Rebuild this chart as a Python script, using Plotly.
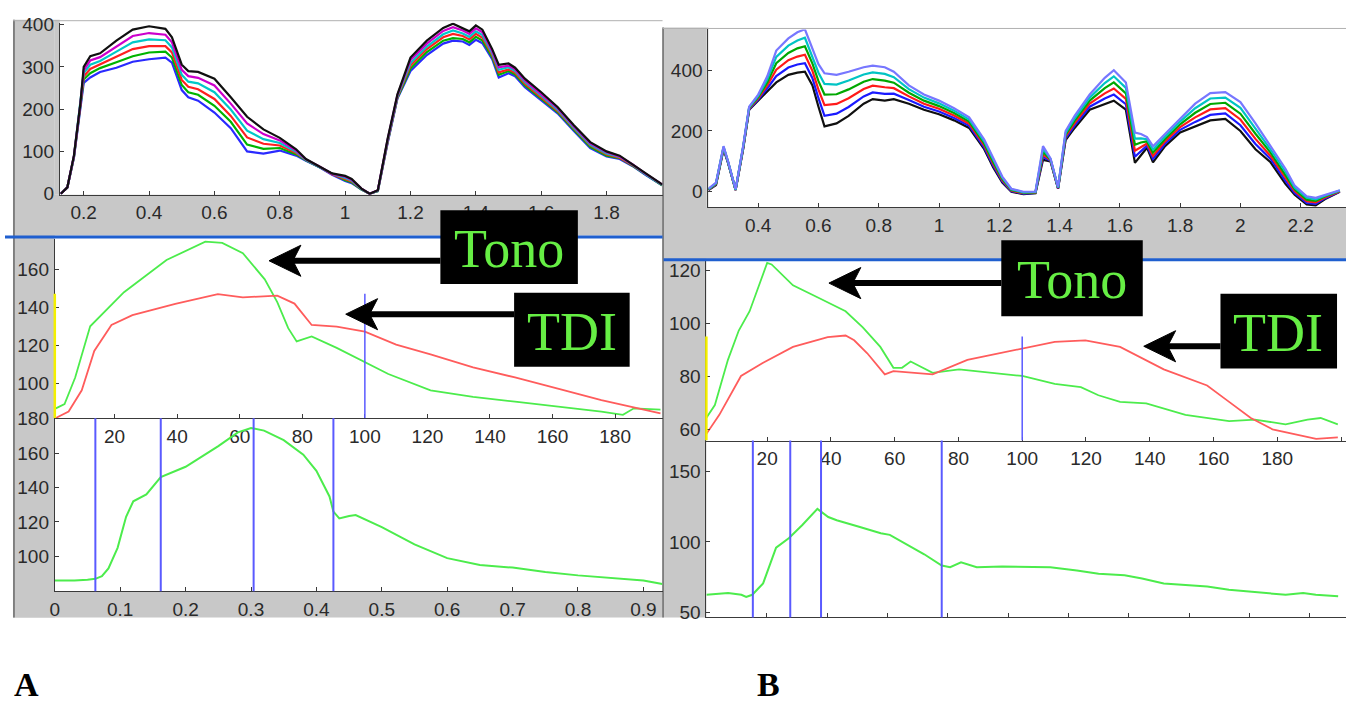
import plotly.graph_objects as go

W, H = 1346, 711

# ---------------- DATA ----------------
# Panel A, top: family of velocity curves (time s, value)
a_top_x = [0.13,0.15,0.17,0.19,0.20,0.22,0.25,0.30,0.35,0.40,0.45,0.47,0.50,0.52,0.55,0.60,0.65,0.70,0.75,0.80,
           0.85,0.88,0.92,0.96,1.00,1.02,1.05,1.075,1.10,1.13,1.16,1.20,1.25,1.30,1.33,1.36,1.38,1.40,1.42,1.45,
           1.47,1.50,1.52,1.55,1.60,1.65,1.70,1.75,1.80,1.84,1.88,1.92,1.97]
a_top_1 = [0,15,85,205,262,275,288,298,312,318,322,310,245,228,220,192,155,100,95,102,90,78,63,45,30,25,10,0,6,120,
           225,290,328,355,362,360,352,364,356,318,275,285,278,252,220,190,148,108,88,82,65,44,20]
a_top_2 = [0,15,86,207,270,285,297,311,325,334,336,322,257,240,234,208,170,116,106,108,93,79,63,46,32,27,10,0,6,122,
           227,296,335,362,368,366,358,371,362,323,281,290,282,256,224,193,151,111,90,84,66,45,20]
a_top_3 = [0,15,87,209,277,295,306,324,342,349,349,334,269,253,247,224,184,133,118,114,96,80,64,46,35,29,11,0,7,124,
           229,303,342,370,378,373,365,378,369,328,287,294,286,260,228,196,154,114,93,85,67,46,21]
a_top_4 = [0,15,88,211,285,305,314,336,358,365,363,346,281,265,261,240,199,149,129,120,99,80,64,47,37,31,11,0,7,126,
           231,309,348,377,386,379,371,384,375,332,293,299,290,264,232,199,156,116,95,87,68,46,21]
a_top_5 = [0,15,89,213,292,315,323,349,373,380,376,358,293,278,274,256,213,166,141,126,102,81,65,47,40,33,12,0,8,128,
           233,316,355,385,394,386,378,391,382,337,299,303,294,268,236,202,159,119,98,88,69,47,22]
a_top_6 = [0,15,90,215,300,325,332,362,388,396,390,370,305,290,288,272,228,182,152,132,105,82,65,48,42,35,12,0,8,130,
           235,322,362,392,402,392,384,398,388,342,305,308,298,272,240,205,162,122,100,90,70,48,22]
a_top_xticks = [0.2,0.4,0.6,0.8,1.0,1.2,1.4,1.6,1.8]
a_top_xtext = ["0.2","0.4","0.6","0.8","1","1.2","1.4","1.6","1.8"]
a_top_yticks = [0,100,200,300,400]

# Panel A, middle: Tono vs TDI (sample index)
a_tono_x = [1.2,4,7.4,12.2,23,36.6,49,54.4,61,68,72,75.5,78.2,83,91,100,107.5,121,134.6,148,162,175.6,182.5,186,194.5]
a_tono_y = [86.7,89,103,130,148,165,174.7,174,168.6,154.8,142.8,129,122,124.7,118.6,111,104.8,96.2,92.8,90.2,87.6,85,83.3,86.7,86]
a_tdi_x = [1.2,5.3,9.5,13.5,19,25.7,39.4,53,61,72,77.5,83,91,100,110,121,134.6,148,162,175.6,194.5]
a_tdi_y = [81.6,85,96.2,117,130.7,135.9,141.9,147,145.3,146.2,142,130.7,129.8,127.2,120.3,115.2,108.3,103,97,91,84]
a_mid_xticks = [20,40,60,80,100,120,140,160,180]
a_mid_yticks = [100,120,140,160]
a_cursor = 100

# Panel A, bottom: Tono curve (time s)
a_low_t = [0,0.03,0.05,0.062,0.072,0.082,0.096,0.109,0.12,0.14,0.162,0.2,0.25,0.28,0.3,0.32,0.35,0.38,0.4,0.42,
           0.426,0.435,0.45,0.46,0.5,0.55,0.6,0.65,0.7,0.75,0.8,0.85,0.9,0.929]
a_low_v = [86,86,86.5,87,88.5,93,105,123,132,136,146,152,164,172,174.5,173,167.5,159,149.7,134.8,
           126,122,123.5,124,117,107,99,95,93.5,91,89,87.5,86,84]
a_markers = [0.062,0.162,0.304,0.426]
a_low_xticks = [0,0.1,0.2,0.3,0.4,0.5,0.6,0.7,0.8,0.9]
a_low_xtext = ["0","0.1","0.2","0.3","0.4","0.5","0.6","0.7","0.8","0.9"]
a_low_yticks = [100,120,140,160,180]

# Panel B, top
b_top_x = [0.235,0.26,0.285,0.30,0.325,0.35,0.37,0.40,0.43,0.46,0.50,0.53,0.555,0.58,0.60,0.62,0.66,0.70,0.75,0.78,
           0.82,0.85,0.90,0.95,1.00,1.05,1.10,1.15,1.18,1.21,1.24,1.28,1.32,1.345,1.37,1.395,1.42,1.45,1.50,1.55,
           1.58,1.62,1.65,1.67,1.69,1.71,1.75,1.80,1.85,1.90,1.95,2.00,2.05,2.10,2.15,2.18,2.22,2.25,2.28,2.33]
b_top_1 = [5,22,140,95,5,140,270,300,330,360,385,392,395,350,280,215,225,250,290,305,300,305,290,270,255,235,210,140,80,30,
           0,-8,-5,105,100,10,170,210,270,290,300,270,95,120,145,97,150,195,215,235,240,200,140,97,25,-10,-42,-45,-25,0]
b_top_2 = [6,24,142,96,6,142,272,304,340,381,409,419,423,374,308,250,257,279,314,327,322,323,302,280,264,243,217,146,86,34,
           2,-6,-4,114,102,11,176,218,280,307,320,288,115,134,152,108,158,204,230,253,258,219,157,108,35,-4,-37,-40,-22,1]
b_top_3 = [7,25,144,97,6,144,274,308,350,402,433,445,451,398,336,285,289,308,338,349,344,341,314,290,273,251,224,153,92,38,
           4,-5,-3,123,104,12,182,226,290,324,340,306,135,148,159,118,166,213,245,271,275,238,174,118,45,2,-31,-35,-19,2]
b_top_4 = [8,27,146,98,7,146,276,312,360,423,457,472,479,422,364,320,321,337,362,371,366,359,326,300,282,259,231,159,98,42,
           6,-3,-2,132,106,13,188,234,300,341,360,324,155,162,166,129,174,222,260,289,293,257,191,129,55,8,-26,-30,-16,3]
b_top_5 = [9,28,148,99,7,148,278,316,370,444,481,498,507,446,392,355,353,366,386,393,388,377,338,310,291,267,238,166,104,46,
           8,-2,-1,141,108,14,194,242,310,358,380,342,175,176,173,139,182,231,275,307,310,276,208,139,65,14,-20,-25,-13,4]
b_top_6 = [10,30,150,100,8,150,280,320,380,465,505,525,535,470,420,390,385,395,410,415,410,395,350,320,300,275,245,172,110,50,
           10,0,0,150,110,15,200,250,320,375,400,360,195,190,180,150,190,240,290,325,328,295,225,150,75,20,-15,-20,-10,5]
b_top_xticks = [0.4,0.6,0.8,1.0,1.2,1.4,1.6,1.8,2.0,2.2]
b_top_xtext = ["0.4","0.6","0.8","1","1.2","1.4","1.6","1.8","2","2.2"]
b_top_yticks = [0,200,400]

# Panel B, middle
b_tono_x = [0.9,3.6,7.7,11.1,14.5,20,21.4,28.1,36.4,44.6,50,55.5,59.6,62.3,65,67.7,71.9,80.2,91.1,100,110.2,118.4,
            123.9,130.7,138.9,151.2,164.9,173,182.6,189.5,193.6,199]
b_tono_y = [64.3,69.2,86.3,97.4,104.7,123,122.4,114.5,109.6,104.7,98.6,91.2,83.3,83.3,85.7,83.9,81.4,82.7,81.4,80.2,77.2,76,
            72.9,70.4,69.8,65.5,63.1,63.7,61.9,63.7,64.3,61.9]
b_tdi_x = [0.9,5,11.8,18.6,28.1,39,44.6,47.3,51.4,56.9,59.6,66.5,71.9,82.8,100,110.2,119.8,130.7,144.4,158,164.9,171.7,
           178.5,185.4,192.2,199]
b_tdi_y = [58.2,65.5,80.2,85.1,91.2,94.9,95.5,93.7,88.8,80.8,82,81.4,80.8,86.3,90.6,93.1,93.7,91.2,82.7,76.6,70.4,64.3,
           60,58.2,56.4,57]
b_mid_xticks = [20,40,60,80,100,120,140,160,180,200]
b_mid_yticks = [60,80,100,120]
b_cursor = 100

# Panel B, bottom
b_low_t = [0,0.036,0.058,0.066,0.076,0.094,0.1155,0.137,0.159,0.184,0.202,0.216,0.253,0.289,0.304,0.332,0.361,0.39,0.404,
           0.422,0.448,0.49,0.541,0.57,0.614,0.65,0.693,0.722,0.758,0.794,0.83,0.866,0.902,0.938,0.96,0.989,1.01,1.047]
b_low_v = [62.4,63.6,62.4,60.8,62.4,70.5,95.9,102.8,112,123.5,117.7,115.4,110.8,106.2,105,98.2,91.2,83.2,82,
           85.5,82,82.5,82,82,79.7,77.4,76.3,74,70.5,69.4,68.2,65.9,64.7,63.6,62.4,63.6,62.4,61.3]
b_markers = [0.077,0.139,0.19,0.39]
b_low_xticks = [0.1,0.2,0.3,0.4,0.5,0.6,0.7,0.8,0.9,1.0]
b_low_yticks = [50,100,150]

# ---------------- STYLE ----------------
GRAY = "#c8c8c8"
AXC = "#3a3a3a"
TICKFONT = dict(family="Liberation Sans Narrow, Arial Narrow, Liberation Sans, Arial, sans-serif", size=19, color="#2a2a2a")
GREEN = "#4cec4c"
RED = "#ff5c5c"
CURSOR = "#5a5aff"
LABEL_GREEN = "#66ee44"
a_colors = ["#2a2aff", "#00b400", "#ff2020", "#00c8c8", "#cc00cc", "#101010"]
b_colors = ["#101010", "#1a1aff", "#ff1a1a", "#00a800", "#00c4c4", "#7777ff"]

fig = go.Figure()

def line_trace(x, y, xa, ya, color, width):
    return go.Scatter(x=x, y=y, xaxis=xa, yaxis=ya, mode="lines",
                      line=dict(color=color, width=width), showlegend=False, hoverinfo="skip")

for ys, c in zip([a_top_1, a_top_2, a_top_3, a_top_4, a_top_5, a_top_6], a_colors):
    fig.add_trace(line_trace(a_top_x, ys, "x", "y", c, 2.2))
fig.add_trace(line_trace(a_tono_x, a_tono_y, "x2", "y2", GREEN, 1.8))
fig.add_trace(line_trace(a_tdi_x, a_tdi_y, "x2", "y2", RED, 1.8))
fig.add_trace(line_trace(a_low_t, a_low_v, "x3", "y3", GREEN, 2))
for ys, c in zip([b_top_1, b_top_2, b_top_3, b_top_4, b_top_5, b_top_6], b_colors):
    fig.add_trace(line_trace(b_top_x, ys, "x4", "y4", c, 2.2))
fig.add_trace(line_trace(b_tono_x, b_tono_y, "x5", "y5", GREEN, 1.8))
fig.add_trace(line_trace(b_tdi_x, b_tdi_y, "x5", "y5", RED, 1.8))
fig.add_trace(line_trace(b_low_t, b_low_v, "x6", "y6", GREEN, 2))


def axis(domain, rng, anchor, **kw):
    d = dict(domain=domain, range=rng, anchor=anchor, showline=True, linecolor=AXC, linewidth=1,
             ticks="inside", ticklen=4, tickcolor=AXC, showgrid=False, zeroline=False,
             tickfont=TICKFONT, fixedrange=True, ticklabelstandoff=1)
    d.update(kw)
    return d

def xd(x0, x1):
    return [x0 / W, x1 / W]

def yd(top, bottom):
    return [1 - bottom / H, 1 - top / H]

layout = dict(
    width=W, height=H, margin=dict(l=0, r=0, t=0, b=0), autosize=False,
    paper_bgcolor="white", plot_bgcolor="rgba(0,0,0,0)", showlegend=False,
    xaxis=axis(xd(55, 660), [0.1268, 1.9713], "y", tickvals=a_top_xticks, ticktext=a_top_xtext),
    yaxis=axis(yd(13, 190), [-2.3, 404.6], "x", tickvals=a_top_yticks),
    xaxis2=axis(xd(50, 660), [0.89, 195.16], "y2", tickvals=a_mid_xticks),
    yaxis2=axis(yd(236, 420), [81.5, 175.9], "x2", tickvals=a_mid_yticks),
    xaxis3=axis(xd(50, 660), [0, 0.9293], "y3", tickvals=a_low_xticks, ticktext=a_low_xtext),
    yaxis3=axis(yd(420, 598), [79.83, 180.2], "x3", tickvals=a_low_yticks),
    xaxis4=axis(xd(706, 1346), [0.2347, 2.3504], "y4", tickvals=b_top_xticks, ticktext=b_top_xtext),
    yaxis4=axis(yd(20, 203), [-51.2, 534.4], "x4", tickvals=b_top_yticks),
    xaxis5=axis(xd(704, 1346), [0.94, 201.56], "y5", tickvals=b_mid_xticks),
    yaxis5=axis(yd(258, 443), [55.77, 123.8], "x5", tickvals=b_mid_yticks),
    xaxis6=axis(xd(704, 1346), [0, 1.06], "y6", tickvals=b_low_xticks, showticklabels=False),
    yaxis6=axis(yd(443, 625), [46.3, 172.08], "x6", tickvals=b_low_yticks),
)
fig.update_layout(**layout)

shapes = []

def rect(x0, y0, x1, y1, color, layer="below"):
    return dict(type="rect", xref="paper", yref="paper", x0=x0 / W, x1=x1 / W, y0=1 - y1 / H, y1=1 - y0 / H,
                fillcolor=color, line=dict(width=0), layer=layer)

def pline(x0, y0, x1, y1, color, width, layer="above"):
    return dict(type="line", xref="paper", yref="paper", x0=x0 / W, x1=x1 / W, y0=1 - y0 / H, y1=1 - y1 / H,
                line=dict(color=color, width=width), layer=layer)

# grey window frames
shapes += [rect(8, 10, 50, 625, GRAY), rect(50, 10, 55, 190, GRAY), rect(8, 190, 660, 232, GRAY),
           rect(8, 598, 660, 625, GRAY), rect(660, 18, 704, 625, GRAY), rect(704, 18, 706, 203, GRAY),
           rect(660, 203, 1346, 256, GRAY)]
shapes += [pline(9, 10, 9, 625, "#6a6a6a", 1.5, "below"), pline(660.5, 18, 660.5, 625, "#6a6a6a", 1.5, "below"),
           pline(8, 11, 660, 11, "#b0b0b0", 1, "below"), pline(660, 19, 1346, 19, "#b0b0b0", 1, "below")]
# blue separators
shapes += [pline(0, 233.5, 660, 233.5, "#1f5fcf", 3), pline(661, 257, 1346, 257, "#1f5fcf", 3)]

# cursor lines and markers
for t in a_markers:
    shapes.append(dict(type="line", xref="x3", yref="y3 domain", x0=t, x1=t, y0=0, y1=1,
                       line=dict(color=CURSOR, width=2)))
for t in b_markers:
    shapes.append(dict(type="line", xref="x6", yref="y6 domain", x0=t, x1=t, y0=0, y1=1,
                       line=dict(color=CURSOR, width=2)))
shapes.append(dict(type="line", xref="x2", yref="y2", x0=a_cursor, x1=a_cursor, y0=81.5, y1=147.2,
                   line=dict(color=CURSOR, width=1.5)))
shapes.append(dict(type="line", xref="x5", yref="y5", x0=b_cursor, x1=b_cursor, y0=55.77, y1=95.1,
                   line=dict(color=CURSOR, width=1.5)))
shapes.append(dict(type="line", xref="x2 domain", yref="y2", x0=0, x1=0, y0=81.5, y1=147.2,
                   line=dict(color="#f4f000", width=2.5)))
shapes.append(dict(type="line", xref="x5 domain", yref="y5", x0=0, x1=0, y0=55.77, y1=95.1,
                   line=dict(color="#f4f000", width=2.5)))

# label boxes with arrows
def arrow(tail, tip, y):
    s = [pline(tail, y, tip + 22, y, "black", 6)]
    path = (f"M {tip / W},{1 - y / H} L {(tip + 32) / W},{1 - (y - 16) / H} "
            f"L {(tip + 24) / W},{1 - y / H} L {(tip + 32) / W},{1 - (y + 16) / H} Z")
    s.append(dict(type="path", xref="paper", yref="paper", path=path, fillcolor="black",
                  line=dict(color="black", width=1), layer="above"))
    return s

boxes = [  # x0, y0, x1, y1
    (437, 206, 575, 282), (511, 291, 627, 367), (1000, 237, 1142, 315), (1220, 292, 1337, 369)]
for b in boxes:
    shapes.append(rect(b[0], b[1], b[2], b[3], "black", "above"))
shapes += arrow(437, 265, 258) + arrow(511, 342, 313) + arrow(1000, 827, 281) + arrow(1220, 1143, 346)

fig.update_layout(shapes=shapes)

annotations = []
def txt(s, x, y, size, color, family, bold=False):
    return dict(text=(f"<b>{s}</b>" if bold else s), x=x / W, y=1 - y / H, xref="paper", yref="paper",
                showarrow=False, xanchor="center", yanchor="middle",
                font=dict(family=family, size=size, color=color))

SERIF = "Liberation Serif, Times New Roman, serif"
annotations += [txt("Tono", 506, 246, 54, LABEL_GREEN, SERIF), txt("TDI", 569, 331, 54, LABEL_GREEN, SERIF),
                txt("Tono", 1071, 278, 54, LABEL_GREEN, SERIF), txt("TDI", 1278, 332, 54, LABEL_GREEN, SERIF),
                txt("A", 22, 694, 34, "black", SERIF, True), txt("B", 766, 694, 34, "black", SERIF, True)]
fig.update_layout(annotations=annotations)

fig.write_html("out.html", include_plotlyjs=True, full_html=True, config={"displayModeBar": False},
               post_script="document.body.style.margin='0';document.body.style.overflow='hidden';")
